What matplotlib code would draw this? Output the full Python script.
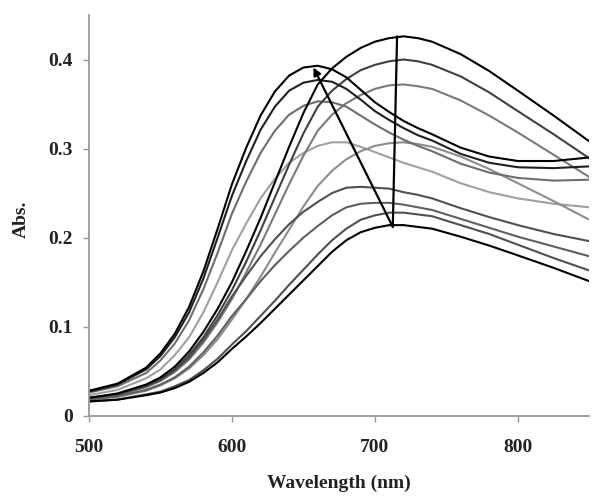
import matplotlib
matplotlib.use("Agg")
import matplotlib.pyplot as plt

wavelength = [500, 520, 540, 550, 560, 570, 580, 590, 600, 610, 620, 630, 640, 650,
              660, 670, 680, 690, 700, 710, 720, 730, 740, 760, 780, 800, 825, 850]

# red-shifted family (band near 715 nm)
abs_a1 = [.016, .018, .023, .026, .031, .038, .048, .060, .075, .089, .104, .120, .136, .152,
          .168, .184, .197, .206, .211, .214, .214, .212, .210, .201, .191, .180, .166, .151]
abs_a2 = [.016, .018, .024, .027, .033, .040, .051, .064, .080, .095, .112, .129, .147, .164,
          .181, .197, .210, .220, .225, .228, .228, .226, .224, .214, .204, .192, .177, .163]
abs_a4 = [.018, .021, .028, .034, .042, .053, .068, .086, .108, .131, .156, .183, .209, .235,
          .258, .275, .288, .297, .303, .306, .307, .305, .302, .291, .277, .261, .241, .220]
abs_a5 = [.019, .023, .032, .039, .049, .063, .082, .105, .131, .161, .192, .226, .260, .292,
          .320, .338, .351, .360, .367, .371, .372, .370, .367, .354, .337, .318, .293, .268]
abs_a6 = [.020, .024, .034, .041, .052, .068, .088, .113, .141, .173, .208, .245, .282, .317,
          .347, .365, .378, .388, .394, .398, .400, .398, .394, .381, .363, .342, .316, .289]
abs_a7 = [.020, .025, .035, .043, .055, .072, .094, .120, .150, .185, .222, .262, .302, .340,
          .372, .390, .403, .413, .420, .424, .426, .424, .420, .406, .387, .365, .337, .308]

# blue-shifted family (band near 655 nm)
abs_b1 = [.028, .036, .054, .070, .092, .122, .162, .210, .260, .301, .337, .364, .382, .391,
          .393, .389, .380, .366, .352, .341, .331, .323, .316, .301, .291, .286, .286, .290]
abs_b2 = [.027, .035, .052, .067, .088, .116, .154, .200, .247, .286, .321, .347, .365, .374,
          .377, .375, .367, .355, .342, .332, .323, .315, .309, .294, .284, .279, .278, .280]
abs_b3 = [.026, .033, .048, .062, .081, .107, .142, .183, .227, .263, .295, .320, .338, .348,
          .353, .352, .347, .337, .327, .318, .310, .303, .297, .283, .273, .267, .264, .265]
abs_b4 = [.023, .029, .042, .052, .068, .088, .116, .150, .186, .216, .244, .266, .284, .295,
          .303, .307, .307, .302, .296, .290, .284, .279, .274, .261, .251, .244, .238, .234]
abs_b5 = [.020, .024, .033, .040, .051, .065, .085, .108, .134, .157, .179, .198, .215, .229,
          .240, .250, .256, .257, .256, .255, .251, .248, .244, .233, .223, .214, .204, .196]
abs_b6 = [.018, .022, .029, .035, .043, .055, .071, .090, .112, .131, .151, .169, .185, .200,
          .213, .225, .234, .238, .239, .239, .237, .234, .231, .221, .211, .201, .190, .179]

series = [
    (abs_b4, "#a0a0a0"),
    (abs_a4, "#8c8c8c"),
    (abs_a5, "#7a7a7a"),
    (abs_b3, "#6e6e6e"),
    (abs_b6, "#606060"),
    (abs_b5, "#505050"),
    (abs_a2, "#505050"),
    (abs_a6, "#404040"),
    (abs_b2, "#202020"),
    (abs_a1, "#000000"),
    (abs_a7, "#000000"),
    (abs_b1, "#000000"),
]

x_ticks = [500, 600, 700, 800]
y_ticks = [0, 0.1, 0.2, 0.3, 0.4]
y_tick_labels = ["0", "0.1", "0.2", "0.3", "0.4"]

# arrow annotation endpoints
arrow_start = (712.5, 0.212)
arrow_end = (657, 0.391)
vline_top = (715.5, 0.426)

fig = plt.figure(figsize=(6.0, 5.01), dpi=100)
ax = fig.add_axes([0.1483, 0.1703, 0.834, 0.7998])

for vals, col in series:
    ax.plot(wavelength, vals, color=col, lw=1.5, solid_joinstyle="round")

ax.plot([arrow_start[0], vline_top[0]], [arrow_start[1], vline_top[1]],
        color="black", lw=1.6, solid_capstyle="round")
ax.annotate("", xy=arrow_end, xytext=arrow_start,
            arrowprops=dict(arrowstyle="-|>", color="black", lw=1.6,
                            mutation_scale=11, shrinkA=0, shrinkB=0))

ax.set_xlim(500, 850)
ax.set_ylim(0, 0.45)
ax.set_xticks(x_ticks)
ax.set_yticks(y_ticks)
ax.set_yticklabels(y_tick_labels)

font = dict(family="Liberation Serif", weight="bold", size=14)
for lab in ax.get_xticklabels() + ax.get_yticklabels():
    lab.set_fontfamily("Liberation Serif")
    lab.set_fontweight("bold")
    lab.set_fontsize(14)
    lab.set_color("#222222")

for s in ["top", "right"]:
    ax.spines[s].set_visible(False)
for s in ["left", "bottom"]:
    ax.spines[s].set_color("#999999")
    ax.spines[s].set_linewidth(1.3)

ax.tick_params(axis="both", direction="out", length=4.5, width=1.0, color="#999999")
ax.tick_params(axis="x", pad=12)
ax.tick_params(axis="y", pad=7)

ax.set_xlabel("Wavelength (nm)", fontdict=font, color="#222222")
ax.set_ylabel("Abs.", fontdict=font, color="#222222")
ax.xaxis.set_label_coords(0.5, -0.148)
ax.yaxis.set_label_coords(-0.118, 0.49)

fig.savefig("out.png", dpi=100)
